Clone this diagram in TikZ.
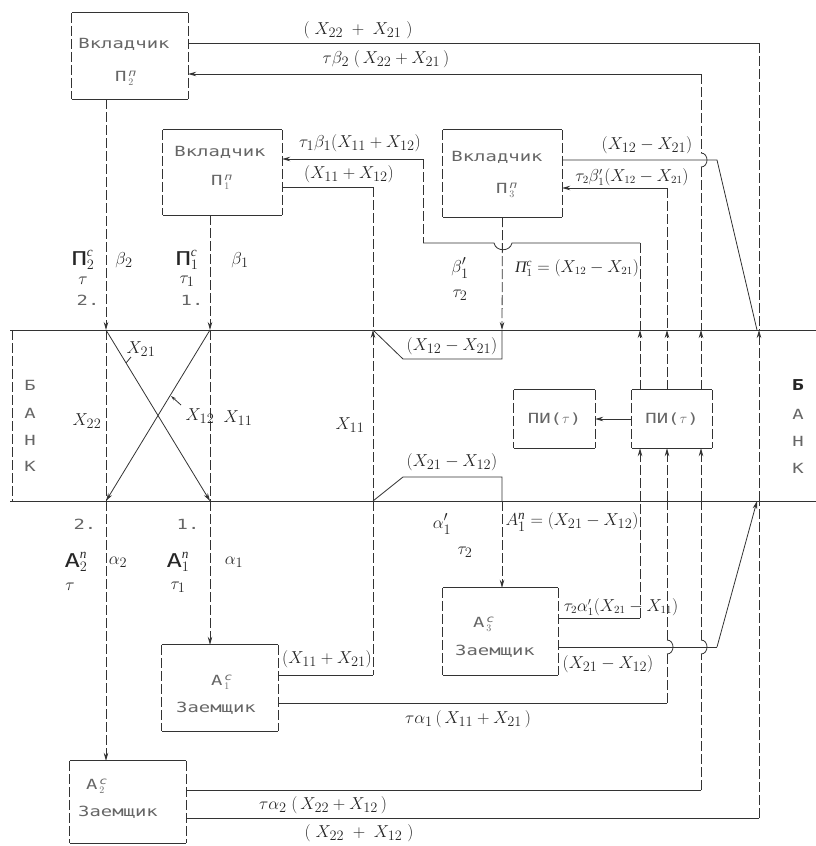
\documentclass[tikz,border=0pt]{standalone}
\usepackage{amsmath}
\usepackage{fontspec}
\setmainfont{Liberation Serif}
\newfontfamily\boxfont[FakeStretch=1.35]{DejaVu Sans Mono}
\usetikzlibrary{arrows.meta}
\newcommand\cy[1]{\text{\itshape #1}}
\newcommand\tp[1]{\text{\boxfont #1}}
\newcommand\frameit[1]{%
  \draw[ln] (#1.north west) -- (#1.north east);
  \draw[ln] (#1.south west) -- (#1.south east);
  \draw[dsh] (#1.north west) -- (#1.south west);
  \draw[dsh] (#1.north east) -- (#1.south east);}
\tikzset{
 ln/.style={line width=0.8pt, draw=black!80},
 dsh/.style={ln, dash pattern=on 10pt off 3pt},
 arr/.style={-{Stealth[length=8pt,width=4.5pt]}},
 lab/.style={font=\fontsize{19}{22}\selectfont, inner sep=0pt, text=black!85},
 mid/.style={font=\fontsize{16}{19}\selectfont, inner sep=0pt, text=black!85},
 bx/.style={font=\boxfont\fontsize{14}{16}\selectfont, text=black!60, inner sep=0pt},
 box/.style={draw=none, inner sep=0pt},
}
\begin{document}
\begin{tikzpicture}[x=1pt,y=-1pt]
\useasboundingbox (0,0) rectangle (816,846);
% ---------- boxes
\node[box,minimum width=116pt,minimum height=86pt] (P2) at (130,56) {};
\node[box,minimum width=119pt,minimum height=85pt] (P1) at (222.5,172.5) {};
\node[box,minimum width=119pt,minimum height=87pt] (P3) at (502.5,173.5) {};
\node[box,minimum width=116pt,minimum height=86pt] (A1) at (220,688) {};
\node[box,minimum width=116pt,minimum height=82pt] (A2) at (128,802) {};
\node[box,minimum width=115pt,minimum height=87pt] (A3) at (500.5,631.5) {};
\node[box,minimum width=81pt,minimum height=58pt] (PIL) at (554.5,419) {};
\node[box,minimum width=80pt,minimum height=58pt] (PIR) at (672,419) {};
\frameit{P2}\frameit{P1}\frameit{P3}\frameit{A1}\frameit{A2}\frameit{A3}\frameit{PIL}\frameit{PIR}
% box texts
\node[bx] (P2a) at (124,44) {Вкладчик};
\node[bx] (P2b) at (126,78) {П\kern2pt$_2^{\cy{п}}$};
\node[bx] (P1a) at (220,152) {Вкладчик};
\node[bx] (P1b) at (222,182) {П\kern2pt$_1^{\cy{п}}$};
\node[bx] (P3a) at (497,157) {Вкладчик};
\node[bx] (P3b) at (507,190) {П\kern2pt$_3^{\cy{п}}$};
\node[bx] (A1a) at (222,682) {А\kern2pt$_1^{\cy{с}}$};
\node[bx] (A1b) at (216,708) {Заемщик};
\node[bx] (A2a) at (97,786) {А\kern2pt$_2^{\cy{с}}$};
\node[bx] (A2b) at (118,812) {Заемщик};
\node[bx] (A3a) at (484,624) {А\kern2pt$_3^{\cy{с}}$};
\node[bx] (A3b) at (495,651) {Заемщик};
\node[bx] (PILt) at (PIL) {ПИ($\tau$)};
\node[bx] (PIRt) at (PIR) {ПИ($\tau$)};
% ---------- bank
\coordinate (BTL) at (10,330); \coordinate (BTR) at (816,330);
\coordinate (BBL) at (10,501); \coordinate (BBR) at (816,501);
\draw[ln,line width=1pt] (BTL) -- (BTR);
\draw[ln,line width=1pt] (BBL) -- (BBR);
\coordinate (BL1) at (12,330); \coordinate (BL2) at (12,501);
\draw[dsh] (BL1) -- (BL2);
\node[bx] (b1) at (30,385) {Б};
\node[bx] (b2) at (30,413) {А};
\node[bx] (b3) at (30,440) {Н};
\node[bx] (b4) at (30,466) {К};
\node[bx,font=\boxfont\bfseries\fontsize{15}{17}\selectfont,text=black!85] (b5) at (798,385) {Б};
\node[bx] (b6) at (798,414) {А};
\node[bx] (b7) at (798,441) {Н};
\node[bx] (b8) at (798,468) {К};
% ---------- columns 2 and 1
\coordinate (c2a) at (106,330); \coordinate (c2b) at (106,501);
\coordinate (c1a) at (210,330); \coordinate (c1b) at (210,501);
\draw[dsh,arr] (c2a |- P2.south) -- (c2a);
\draw[dsh] (c2a) -- (c2b);
\draw[dsh,arr] (c2b) -- (c2b |- A2.north);
\draw[dsh,arr] (c1a |- P1.south) -- (c1a);
\draw[dsh] (c1a) -- (c1b);
\draw[dsh,arr] (c1b) -- (c1b |- A1.north);
\draw[ln,arr] (c2a) -- (c1b);
\draw[ln,arr] (c1a) -- (c2b);
\coordinate (t1a) at (131,357); \coordinate (t1b) at (126,363);
\draw[ln] (t1a) -- (t1b);
\coordinate (t2a) at (181,405); \coordinate (t2b) at (171,396);
\draw[ln,-{Stealth[length=5pt,width=3pt]}] (t2a) -- (t2b);
% ---------- P2 flows
\coordinate (y43) at (0,43); \coordinate (y74) at (0,74);
\coordinate (d1) at (759,43); \coordinate (d2) at (759,330);
\draw[ln] (P2.east |- y43) -- (d1);
\draw[dsh] (d1) -- (d2);
\coordinate (e1) at (701,74); \coordinate (e2) at (701,330);
\coordinate (e3) at (701,153); \coordinate (e4) at (701,167);
\draw[ln,arr] (e1) -- (P2.east |- y74);
\draw[dsh] (e1) -- (e3);
\draw[ln] (e3) .. controls (709,153) and (709,167) .. (e4);
\draw[dsh] (e4) -- (e2);
% ---------- P1 flows
\coordinate (j1) at (423,159); \coordinate (j2) at (423,243);
\coordinate (j3) at (640,243); \coordinate (j4) at (640,330);
\draw[ln,arr] (j1) -- (P1.east |- j1);
\draw[dsh] (j1) -- (j2);
\draw[ln] (j2) -- (494,243) .. controls (496,252) and (510,252) .. (512,243) -- (j3);
\draw[dsh] (j3) -- (j4);
\coordinate (k1) at (373,187); \coordinate (k2) at (373,330);
\coordinate (k3) at (373,501); \coordinate (k4) at (373,675);
\draw[ln] (P1.east |- k1) -- (k1);
\draw[dsh] (k1) -- (k2);
\draw[dsh,arr] (k3) -- (k2);
\draw[dsh] (k3) -- (k4);
\draw[ln] (k4) -- (A1.east |- k4);
% ---------- P3 flows
\coordinate (n1) at (717,160); \coordinate (n3) at (757,330);
\draw[ln] (P3.east |- n1) -- (n1) -- (n3);
\coordinate (n2) at (667,188); \coordinate (n4) at (667,330);
\draw[ln,arr] (n2) -- (P3.east |- n2);
\draw[dsh] (n2) -- (n4);
\coordinate (m1) at (502,330); \coordinate (m2) at (502,501);
\draw[dsh,arr] (P3.south) -- (m1);
\coordinate (m3) at (502,359); \coordinate (m4) at (403,359);
\draw[ln] (m1) -- (m3) -- (m4) -- (k2);
\coordinate (m5) at (403,477); \coordinate (m6) at (502,477);
\draw[ln] (k3) -- (m5) -- (m6) -- (m2);
\draw[dsh,arr] (m2) -- (m2 |- A3.north);
% ---------- inside bank: PI box links
\coordinate (q1) at (640,501); \coordinate (q2) at (667,501); \coordinate (q3) at (701,501);
\draw[dsh,arr] (j4 |- PIR.north) -- (j4);
\draw[dsh,arr] (n4 |- PIR.north) -- (n4);
\draw[dsh,arr] (e2 |- PIR.north) -- (e2);
\draw[dsh,arr] (q1) -- (q1 |- PIR.south);
\draw[dsh,arr] (q2) -- (q2 |- PIR.south);
\draw[dsh,arr] (q3) -- (q3 |- PIR.south);
\draw[ln,arr] (PIR.west) -- (PIL.east);
\coordinate (d3) at (759,501);
\draw[dsh,arr] (d3) -- (d2);
% ---------- borrower flows
\coordinate (r1) at (640,618);
\draw[ln] (A3.east |- r1) -- (r1);
\draw[dsh] (r1) -- (q1);
\coordinate (r2) at (717,647); \coordinate (r3) at (757,501);
\draw[ln] (A3.east |- r2) -- (r2);
\draw[ln,arr] (r2) -- (r3);
\coordinate (s1) at (667,703);
\coordinate (s1a) at (667,654); \coordinate (s1b) at (667,640);
\draw[ln] (A1.east |- s1) -- (s1);
\draw[dsh] (s1) -- (s1a);
\draw[ln] (s1a) .. controls (675,654) and (675,640) .. (s1b);
\draw[dsh] (s1b) -- (q2);
\coordinate (s2) at (701,790);
\coordinate (s2a) at (701,654); \coordinate (s2b) at (701,640);
\draw[ln] (A2.east |- s2) -- (s2);
\draw[dsh] (s2) -- (s2a);
\draw[ln] (s2a) .. controls (709,654) and (709,640) .. (s2b);
\draw[dsh] (s2b) -- (q3);
\coordinate (s3) at (759,818);
\draw[ln] (A2.east |- s3) -- (s3);
\draw[dsh] (s3) -- (d3);
% ---------- labels
\node[lab] (l1) at (358,30) {$(\;X_{22} \;+\; X_{21}\;)$};
\node[lab] (l2) at (386,59) {$\tau\beta_2\;(\,X_{22} + X_{21}\,)$};
\node[lab] (l3) at (360,143) {$\tau_1\beta_1(X_{11}+X_{12})$};
\node[lab] (l4) at (349,174) {$(X_{11}+X_{12})$};
\node[lab] (l5) at (647,145) {$(X_{12}-X_{21})$};
\node[mid] (l6) at (632,177) {$\tau_2\beta'_1(X_{12}-X_{21})$};
\node[lab] (l7) at (460,268) {$\beta'_1$};
\node[lab] (l8) at (460,295) {$\tau_2$};
\node[mid] (l9) at (577,268) {$\cy{П}_1^{\cy{с}} = (X_{12}-X_{21})$};
\node[lab] (l10) at (83,260) {$\tp{П}_2^{\cy{с}}$};
\node[lab] (l11) at (124,260) {$\beta_2$};
\node[lab] (l12) at (83,281) {$\tau$};
\node[bx] (l13) at (88,300) {2.};
\node[lab] (l14) at (187,260) {$\tp{П}_1^{\cy{с}}$};
\node[lab] (l15) at (240,260) {$\beta_1$};
\node[lab] (l16) at (187,281) {$\tau_1$};
\node[bx] (l17) at (192,300) {1.};
\node[lab] (l18) at (141,349) {$X_{21}$};
\node[lab] (l19) at (87,421) {$X_{22}$};
\node[lab] (l20) at (200,416) {$X_{12}$};
\node[lab] (l21) at (238,418) {$X_{11}$};
\node[lab] (l22) at (350,425) {$X_{11}$};
\node[lab] (l23) at (452,346) {$(X_{12}-X_{21})$};
\node[lab] (l24) at (452,462) {$(X_{21}-X_{12})$};
\node[bx] (l25) at (85,524) {2.};
\node[bx] (l26) at (188,524) {1.};
\node[lab] (l27) at (76,562) {$\tp{А}_2^{\cy{п}}$};
\node[lab] (l28) at (118,562) {$\alpha_2$};
\node[lab] (l29) at (178,562) {$\tp{А}_1^{\cy{п}}$};
\node[lab] (l30) at (234,562) {$\alpha_1$};
\node[lab] (l31) at (70,587) {$\tau$};
\node[lab] (l32) at (178,587) {$\tau_1$};
\node[lab] (l33) at (442,524) {$\alpha'_1$};
\node[lab] (l34) at (572,522) {$A_1^{\cy{п}} = (X_{21}-X_{12})$};
\node[lab] (l35) at (465,552) {$\tau_2$};
\node[mid] (l36) at (621,607) {$\tau_2\alpha'_1(X_{21}-X_{11})$};
\node[lab] (l37) at (608,664) {$(X_{21}-X_{12})$};
\node[lab] (l38) at (327,659) {$(X_{11}+X_{21})$};
\node[lab] (l39) at (468,719) {$\tau\alpha_1\,(\,X_{11} + X_{21}\,)$};
\node[lab] (l40) at (323,805) {$\tau\alpha_2\;(\,X_{22} + X_{12}\,)$};
\node[lab] (l41) at (359,833) {$(\;X_{22} \;+\; X_{12}\;)$};
\end{tikzpicture}
\end{document}
